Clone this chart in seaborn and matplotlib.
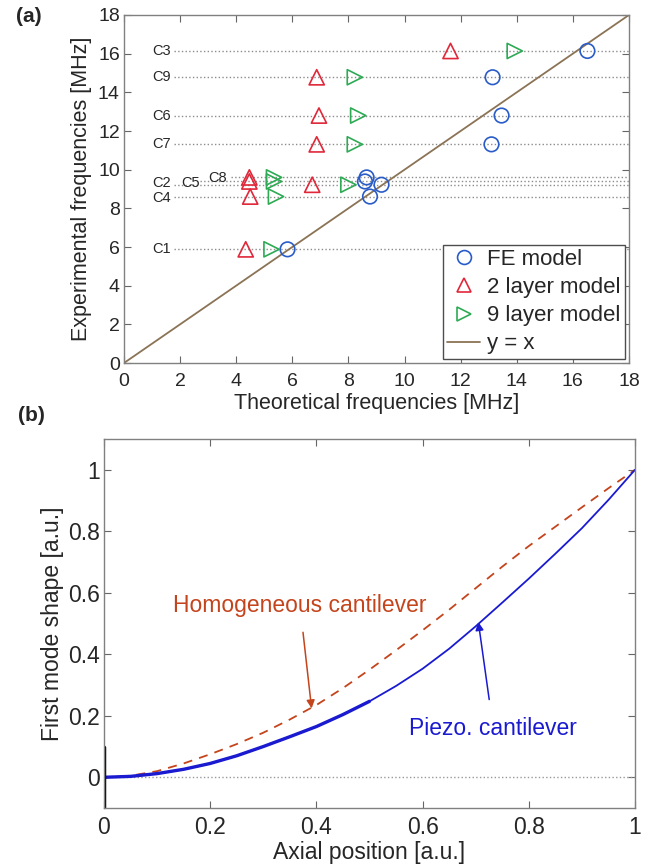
import numpy as np
import pandas as pd
import matplotlib
matplotlib.use("Agg")
import matplotlib.pyplot as plt
import seaborn as sns
from matplotlib.lines import Line2D
from matplotlib.ticker import FormatStrFormatter

sns.set_style("ticks")
plt.rcParams['font.family'] = ['Liberation Sans', 'DejaVu Sans']

# (a) resonance frequencies [MHz] per cantilever
samples = ['C1', 'C2', 'C3', 'C4', 'C5', 'C6', 'C7', 'C8', 'C9']
exp_freq = [5.88, 9.22, 16.14, 8.61, 9.39, 12.80, 11.31, 9.60, 14.78]
fe_model = [5.83, 9.18, 16.52, 8.77, 8.59, 13.46, 13.10, 8.65, 13.14]
two_layer = [4.34, 6.71, 11.64, 4.50, 4.47, 6.95, 6.87, 4.47, 6.87]
nine_layer = [5.26, 8.00, 13.93, 5.42, 5.35, 8.35, 8.23, 5.35, 8.23]
diag = [0, 18]

# (b) first mode shape
axial_pos = [0.0, 0.05, 0.1, 0.15, 0.2, 0.25, 0.3, 0.35, 0.4, 0.45, 0.5,
             0.55, 0.6, 0.65, 0.7, 0.75, 0.8, 0.85, 0.9, 0.95, 1.0]
homogeneous = [0.0, 0.005, 0.02, 0.045, 0.075, 0.108, 0.145, 0.188, 0.235,
               0.29, 0.35, 0.413, 0.478, 0.545, 0.615, 0.685, 0.752, 0.815,
               0.878, 0.94, 1.0]
piezo = [0.0, 0.003, 0.012, 0.026, 0.045, 0.07, 0.1, 0.132, 0.165, 0.204,
         0.247, 0.297, 0.353, 0.418, 0.491, 0.568, 0.646, 0.727, 0.81,
         0.902, 1.0]
clamp_x = [0, 0]
clamp_y = [-0.1, 0.1]

df = pd.DataFrame({'sample': samples, 'exp': exp_freq, 'fe': fe_model,
                   'two': two_layer, 'nine': nine_layer})

c_fe, c_two, c_nine, c_diag = '#2a5cc8', '#e0283a', '#2eaa55', '#8b7355'
c_homo, c_piezo = '#c4441c', '#1a1ad0'

fig = plt.figure(figsize=(6.64, 8.67), dpi=100)
ax1 = fig.add_axes([0.1867, 0.5813, 0.7605, 0.4014])
ax2 = fig.add_axes([0.1566, 0.068, 0.7997, 0.4256])

# ---- panel (a)
line_start = {'C5': 2.7, 'C8': 3.8}
label_pos = {'C1': (1.34, 5.88), 'C2': (1.34, 9.30), 'C3': (1.34, 16.14),
             'C4': (1.34, 8.55), 'C5': (2.36, 9.32), 'C6': (1.34, 12.80),
             'C7': (1.34, 11.31), 'C8': (3.34, 9.56), 'C9': (1.34, 14.78)}
for s, y in zip(samples, exp_freq):
    ax1.hlines(y, line_start.get(s, 1.8), 18, colors='0.55', linestyles=':', lw=1)
    lx, ly = label_pos[s]
    ax1.text(lx, ly, s, fontsize=10.5, ha='center', va='center')

sns.lineplot(x=diag, y=diag, ax=ax1, color=c_diag, lw=1.3)
sns.scatterplot(data=df, x='fe', y='exp', ax=ax1, marker='o', s=110,
                facecolors='none', edgecolor=c_fe, linewidth=1.2, zorder=3)
sns.scatterplot(data=df, x='two', y='exp', ax=ax1, marker='^', s=120,
                facecolors='none', edgecolor=c_two, linewidth=1.2, zorder=3)
sns.scatterplot(data=df, x='nine', y='exp', ax=ax1, marker='>', s=120,
                facecolors='none', edgecolor=c_nine, linewidth=1.2, zorder=3)

ax1.set_xlim(0, 18)
ax1.set_ylim(0, 18)
ax1.set_xticks(np.arange(0, 19, 2))
ax1.set_yticks(np.arange(0, 19, 2))
ax1.set_xlabel('Theoretical frequencies [MHz]', fontsize=15.5, labelpad=2)
ax1.set_ylabel('Experimental frequencies [MHz]', fontsize=15.5, labelpad=4)

handles = [
    Line2D([], [], ls='', marker='o', mfc='none', mec=c_fe, ms=10, mew=1.2),
    Line2D([], [], ls='', marker='^', mfc='none', mec=c_two, ms=10, mew=1.2),
    Line2D([], [], ls='', marker='>', mfc='none', mec=c_nine, ms=10, mew=1.2),
    Line2D([], [], color=c_diag, lw=1.3),
]
leg = ax1.legend(handles, ['FE model', '2 layer model', '9 layer model', 'y = x'],
                 loc='lower right', bbox_to_anchor=(0.992, 0.012), fontsize=16,
                 frameon=True, fancybox=False, framealpha=1, edgecolor='0.3',
                 borderpad=0.2, labelspacing=0.32, handlelength=1.5,
                 handletextpad=0.3, borderaxespad=0)
leg.get_frame().set_linewidth(1)

# ---- panel (b)
ax2.axhline(0, color='0.6', ls=':', lw=1)
sns.lineplot(x=axial_pos, y=homogeneous, ax=ax2, color=c_homo, lw=1.3,
             linestyle=(0, (5, 4)))
sns.lineplot(x=axial_pos, y=piezo, ax=ax2, color=c_piezo, lw=1.3)
sns.lineplot(x=axial_pos[:11], y=piezo[:11], ax=ax2, color=c_piezo, lw=2.4)
ax2.plot(clamp_x, clamp_y, color='k', lw=2.5)

ax2.annotate('Homogeneous cantilever', xy=(0.391, 0.224), xytext=(0.369, 0.56),
             fontsize=16.5, color=c_homo, ha='center', va='center',
             arrowprops=dict(arrowstyle='-|>', color=c_homo, lw=1.1,
                             mutation_scale=12, shrinkA=9, shrinkB=0))
ax2.annotate('Piezo. cantilever', xy=(0.705, 0.505), xytext=(0.733, 0.16),
             fontsize=16.5, color=c_piezo, ha='center', va='center',
             arrowprops=dict(arrowstyle='-|>', color=c_piezo, lw=1.1,
                             mutation_scale=12, shrinkA=10, shrinkB=0))

ax2.set_xlim(0, 1)
ax2.set_ylim(-0.1, 1.1)
ax2.set_xticks(np.arange(0, 1.01, 0.2))
ax2.set_yticks(np.arange(0, 1.01, 0.2))
ax2.xaxis.set_major_formatter(FormatStrFormatter('%g'))
ax2.yaxis.set_major_formatter(FormatStrFormatter('%g'))
ax2.set_xlabel('Axial position [a.u.]', fontsize=16.5, labelpad=1)
ax2.set_ylabel('First mode shape [a.u.]', fontsize=16.5, labelpad=3)

for ax, fs, xpad in [(ax1, 14, 7), (ax2, 16.5, 6)]:
    ax.tick_params(direction='in', top=True, right=True, length=5, width=0.8,
                   color='0.4', labelsize=fs)
    ax.tick_params(axis='x', pad=xpad)
    ax.tick_params(axis='y', pad=3)
    for sp in ax.spines.values():
        sp.set_color('0.5')
        sp.set_linewidth(1)
        sp.set_visible(True)

fig.text(0.044, 0.981, '(a)', fontsize=15, fontweight='bold', ha='center', va='center')
fig.text(0.048, 0.521, '(b)', fontsize=15, fontweight='bold', ha='center', va='center')

fig.savefig('out.png', dpi=100)
